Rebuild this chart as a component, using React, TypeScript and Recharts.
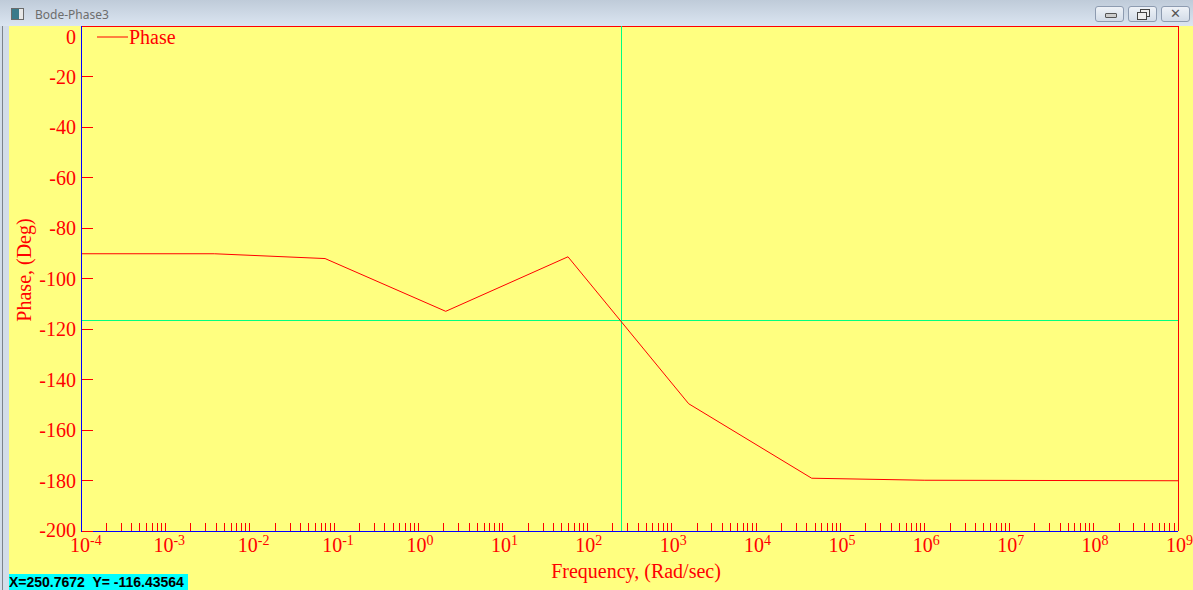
import { Legend, Line, LineChart, ReferenceLine, XAxis, YAxis } from "recharts";

// phase response (log-spaced corner points)
const freq = [1e-4, 3.8e-3, 7.8e-2, 2.1, 59, 1590, 45600, 1e6, 1e9];
const phase = [-90.2, -90.2, -92.1, -113, -91.4, -149.6, -179.1, -179.9, -180.1];

const decades = [-4, -3, -2, -1, 0, 1, 2, 3, 4, 5, 6, 7, 8, 9];
const yTicks = [0, -20, -40, -60, -80, -100, -120, -140, -160, -180, -200];

const cursorX = 250.7672;
const cursorY = -116.43564;

const RED = "#ff0000";
const SERIF = '"Liberation Serif", "Times New Roman", serif';

const data = freq.map((f, i) => ({ f, phase: phase[i] }));

const xTicks: number[] = [];
decades.forEach((d) => {
  for (let k = 1; k <= 9; k++) {
    if (d === 9 && k > 1) break;
    xTicks.push(k * Math.pow(10, d));
  }
});

function FreqTick(props: any) {
  const { x, y, payload } = props;
  const v = payload.value;
  const e = Math.round(Math.log10(v));
  const major = Math.abs(v / Math.pow(10, e) - 1) < 1e-6;
  return (
    <g>
      {e !== -4 || !major ? (
        <line x1={x} x2={x} y1={y - 8} y2={y} stroke={RED} shapeRendering="crispEdges" />
      ) : null}
      {major && (
        <>
          <text x={e === -4 ? x - 1 : x - 2} y={y + 21} textAnchor="middle" fill={RED} fontSize={20} fontFamily={SERIF}>
            10
          </text>
          <text x={e === -4 ? x + 9 : x + 8} y={y + 14} fill={RED} fontSize={14} fontFamily={SERIF}>
            {e}
          </text>
        </>
      )}
    </g>
  );
}

function PhaseTick(props: any) {
  const { x, y, payload } = props;
  const v = payload.value;
  let ty = y + 7;
  if (v === 0) ty = y + 17.5;
  if (v === -200) ty = y + 6;
  return (
    <g>
      <line x1={x + 1} x2={x + 12} y1={y} y2={y} stroke={RED} shapeRendering="crispEdges" />
      <text x={x - 5} y={ty} textAnchor="end" fill={RED} fontSize={20} fontFamily={SERIF}>
        {`${v}`}
      </text>
    </g>
  );
}

function YTitle(props: any) {
  const vb = props.viewBox;
  const cx = 15;
  const cy = vb.y + vb.height / 2 - 8.5;
  return (
    <text
      x={cx}
      y={cy}
      transform={`rotate(-90, ${cx}, ${cy})`}
      textAnchor="middle"
      dominantBaseline="central"
      fill={RED}
      fontSize={20}
      fontFamily={SERIF}
    >
      Phase, (Deg)
    </text>
  );
}

function XTitle(props: any) {
  const vb = props.viewBox;
  return (
    <text x={vb.x + vb.width / 2 + 6.5} y={vb.y + 47} textAnchor="middle" fill={RED} fontSize={20} fontFamily={SERIF}>
      Frequency, (Rad/sec)
    </text>
  );
}

function PhaseLegend() {
  return (
    <svg width={120} height={30}>
      <line x1={8} x2={39} y1={12} y2={12} stroke={RED} />
      <text x={40} y={18.5} fill={RED} fontSize={20} fontFamily={SERIF}>
        Phase
      </text>
    </svg>
  );
}

function Btn({ left, children }: { left: number; children: any }) {
  return (
    <div
      style={{
        position: "absolute",
        left,
        top: 6,
        width: 29,
        height: 16,
        border: "1px solid #8d9bb0",
        borderRadius: 3,
        background: "linear-gradient(#eef2f7, #d3dce8)",
        boxSizing: "border-box",
      }}
    >
      {children}
    </div>
  );
}

export default function App() {
  return (
    <div
      style={{
        position: "absolute",
        left: 0,
        top: 0,
        width: 1193,
        height: 590,
        background: "#ffff80",
        overflow: "hidden",
      }}
    >
      {/* window frame */}
      <div
        style={{
          position: "absolute",
          left: 0,
          top: 0,
          width: 1193,
          height: 26,
          background: "linear-gradient(#bfcbd9, #dbe5f1)",
        }}
      />
      <div style={{ position: "absolute", left: 0, top: 26, width: 9, height: 564, background: "#d3dde9" }} />
      <div style={{ position: "absolute", left: 2, top: 26, width: 1, height: 564, background: "#7d848c" }} />
      <div
        style={{
          position: "absolute",
          left: 11,
          top: 8,
          width: 13,
          height: 12,
          border: "1px solid #6a6a6a",
          background: "linear-gradient(90deg, #3a7a8a 60%, #e8e8e8 60%)",
          boxSizing: "border-box",
        }}
      />
      <div
        style={{
          position: "absolute",
          left: 35,
          top: 6,
          fontFamily: '"Noto Sans", "DejaVu Sans", sans-serif',
          fontSize: 12,
          color: "#6d6d6d",
        }}
      >
        Bode-Phase3
      </div>
      <Btn left={1095}>
        <div style={{ position: "absolute", left: 9, top: 6, width: 10, height: 3, border: "1px solid #555", borderRadius: 1, background: "#ccc" }} />
      </Btn>
      <Btn left={1128}>
        <div style={{ position: "absolute", left: 11, top: 2, width: 8, height: 6, border: "1px solid #444", background: "#eee" }} />
        <div style={{ position: "absolute", left: 8, top: 5, width: 8, height: 6, border: "1px solid #444", background: "#eee" }} />
      </Btn>
      <Btn left={1161}>
        <div style={{ position: "absolute", left: 0, top: -1, width: 27, textAlign: "center", fontFamily: '"DejaVu Sans", sans-serif', fontSize: 13, fontWeight: "bold", color: "#555" }}>
          ✕
        </div>
      </Btn>

      <div style={{ position: "absolute", left: 9, top: 25 }}>
        <LineChart
          width={1184}
          height={565}
          data={data}
          margin={{ top: 1, right: 15, bottom: 0, left: 0 }}
        >
          <XAxis
            dataKey="f"
            type="number"
            scale="log"
            domain={[1e-4, 1e9]}
            allowDataOverflow
            ticks={xTicks}
            interval={0}
            tick={<FreqTick />}
            tickSize={0}
            tickMargin={0}
            tickLine={false}
            height={59}
            axisLine={{ stroke: "#0000ff", shapeRendering: "crispEdges" }}
            label={<XTitle />}
          />
          <YAxis
            type="number"
            domain={[-200, 0]}
            ticks={yTicks}
            interval={0}
            tick={<PhaseTick />}
            tickSize={0}
            tickMargin={0}
            tickLine={false}
            width={72}
            axisLine={{ stroke: "#0000ff", shapeRendering: "crispEdges" }}
            label={<YTitle />}
          />
          <ReferenceLine y={0} stroke={RED} shapeRendering="crispEdges" />
          <ReferenceLine x={1e9} stroke={RED} shapeRendering="crispEdges" />
          <ReferenceLine y={cursorY} stroke="#00ff80" shapeRendering="crispEdges" />
          <ReferenceLine x={cursorX} stroke="#00ff80" shapeRendering="crispEdges" />
          <Legend
            layout="horizontal"
            verticalAlign="middle"
            align="center"
            wrapperStyle={{ top: 0, left: 80, width: 120, height: 30 }}
            content={<PhaseLegend />}
          />
          <Line
            dataKey="phase"
            name="Phase"
            type="linear"
            stroke={RED}
            strokeWidth={1}
            dot={false}
            activeDot={false}
            isAnimationActive={false}
          />
        </LineChart>
      </div>

      <div
        style={{
          position: "absolute",
          left: 9,
          top: 574,
          width: 179,
          height: 16,
          background: "#00ffff",
          color: "#000",
          fontFamily: '"Liberation Sans", Arial, sans-serif',
          fontSize: 14,
          fontWeight: "bold",
          lineHeight: "17px",
          whiteSpace: "pre",
          overflow: "hidden",
        }}
      >
        {"X=250.7672  Y= -116.43564"}
      </div>
    </div>
  );
}
